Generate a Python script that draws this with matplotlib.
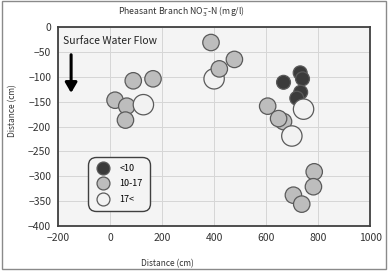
"""
Scatter of nitrate-N sampling points along the Pheasant Branch transect.
"""

import numpy as np
import matplotlib.pyplot as plt
from matplotlib.lines import Line2D

plt.rcParams['font.family'] = ['Noto Sans CJK JP', 'DejaVu Sans']

# sample positions (cm) and concentration class, in drawing order
dist_x = [667, 731, 740, 733, 718,
          89, 165, 19, 64, 59, 388, 478, 606, 667, 648, 785, 782, 705, 737,
          128, 400, 744, 699,
          420]
dist_y = [-111, -92, -104, -131, -143,
          -108, -104, -147, -159, -187, -31, -65, -159, -190, -184, -291, -321, -338, -356,
          -156, -104, -165, -219,
          -84]
group = ['low'] * 5 + ['mid'] * 14 + ['high'] * 4 + ['mid']

classes = ['low', 'mid', 'high']
class_labels = ['<10', '10-17', '17<']
class_colors = {'low': '#3b3b3b', 'mid': '#bdbdbd', 'high': '#f2f2f2'}
class_sizes = {'low': 100, 'mid': 140, 'high': 215}

x_ticks = [-200, 0, 200, 400, 600, 800, 1000]
y_ticks = [0, -50, -100, -150, -200, -250, -300, -350, -400]


def main():
    fig = plt.figure(figsize=(3.9, 2.71), dpi=100)
    ax = fig.add_axes([0.149, 0.166, 0.80, 0.734])

    ax.set_facecolor('#f4f4f4')
    ax.set_xlim(-200, 1000)
    ax.set_ylim(-400, 0)
    ax.set_xticks(x_ticks)
    ax.set_yticks(y_ticks)
    ax.grid(True, color='#d6d6d6', linewidth=0.7)
    ax.set_axisbelow(True)
    ax.tick_params(length=0, labelsize=7.5, colors='#333333', pad=5)
    for sp in ax.spines.values():
        sp.set_color('#404040')
        sp.set_linewidth(1.3)

    # points
    colors = [class_colors[g] for g in group]
    sizes = [class_sizes[g] for g in group]
    ax.scatter(dist_x, dist_y, s=sizes, c=colors, edgecolors='#5a5a5a',
               linewidths=0.9, zorder=3, clip_on=False)

    # flow annotation
    ax.text(-182, -27, 'Surface Water Flow', fontsize=7.5, va='center',
            ha='left', color='#222222')
    ax.annotate('', xy=(-150, -138), xytext=(-150, -50),
                arrowprops=dict(arrowstyle='-|>,head_width=0.35,head_length=0.6',
                                color='black', lw=2.2))

    # labels
    ax.set_xlabel('Distance (cm)', fontsize=6, color='#333333')
    ax.xaxis.set_label_coords(0.35, -0.165)
    ax.set_ylabel('Distance (cm)', fontsize=6, color='#333333')
    ax.yaxis.set_label_coords(-0.131, 0.58)
    fig.text(0.465, 0.955, 'Pheasant Branch NO$_3^{-}$-N (mg/l)',
             fontsize=6.3, ha='center', va='center', color='#333333')

    # legend
    handles = [Line2D([], [], marker='o', linestyle='', markersize=9.3,
                      markerfacecolor=class_colors[c], markeredgecolor='#5a5a5a',
                      markeredgewidth=0.9)
               for c in classes]
    leg = ax.legend(handles, class_labels, loc='lower left',
                    bbox_to_anchor=(0.096, 0.075), fontsize=6.5,
                    frameon=True, fancybox=True, handletextpad=1.1,
                    labelspacing=0.72, borderpad=0.8, handlelength=1.6,
                    borderaxespad=0)
    leg.get_frame().set_edgecolor('#404040')
    leg.get_frame().set_facecolor('#f4f4f4')
    leg.get_frame().set_linewidth(1.0)
    leg.get_frame().set_alpha(1)
    leg.get_frame().set_boxstyle('round', pad=0, rounding_size=0.9)

    # outer frame of the figure
    fig.patches.append(plt.Rectangle((0.005, 0.007), 0.985, 0.988,
                                     transform=fig.transFigure, fill=False,
                                     edgecolor='#8a8a8a', linewidth=1.0))

    fig.savefig('out.png', dpi=100)


if __name__ == "__main__":
    main()
